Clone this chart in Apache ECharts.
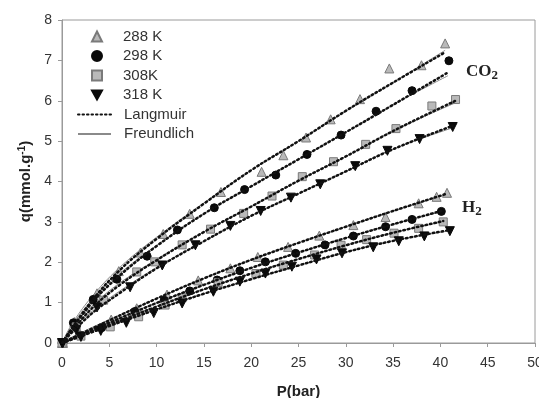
<!DOCTYPE html>
<html><head><meta charset="utf-8">
<script src="https://cdn.jsdelivr.net/npm/echarts@6/dist/echarts.min.js"></script>
<style>html,body{margin:0;padding:0;background:#fff}#c{width:539px;height:398px}</style>
</head><body><div id="c"></div>
<script>
// tick labels
const xTicks = [0,5,10,15,20,25,30,35,40,45,50];
const yTicks = [0,1,2,3,4,5,6,7,8];
const tempNames = ['288 K','298 K','308K','318 K'];
const fitNames = ['Langmuir','Freundlich'];

// measured points [P(bar), q(mmol/g)]
const co2_288 = [[0.1,0],[1.3,0.52],[3.7,1.23],[6.0,1.78],[8.3,2.24],[10.7,2.7],[13.5,3.2],[16.8,3.74],[21.1,4.24],[23.4,4.65],[25.8,5.09],[28.4,5.54],[31.5,6.04],[34.6,6.8],[38.0,6.88],[40.5,7.42]];
const co2_298 = [[0.1,0],[1.2,0.5],[3.3,1.08],[5.8,1.58],[9.0,2.15],[12.2,2.8],[16.1,3.35],[19.3,3.8],[22.6,4.16],[25.9,4.67],[29.5,5.15],[33.2,5.74],[37.0,6.25],[40.9,6.99]];
const co2_308 = [[0.1,0],[1.5,0.4],[4.4,1.06],[7.9,1.76],[9.8,2.01],[12.7,2.43],[15.7,2.82],[19.2,3.21],[22.2,3.64],[25.4,4.12],[28.7,4.49],[32.1,4.92],[35.3,5.31],[39.1,5.87],[41.6,6.03]];
const co2_318 = [[0.1,0],[1.5,0.32],[3.7,0.88],[7.2,1.38],[10.6,1.92],[14.1,2.42],[17.8,2.9],[21.0,3.27],[24.2,3.6],[27.3,3.93],[31.0,4.38],[34.4,4.76],[37.8,5.05],[41.3,5.35]];
const h2_288 = [[0,0],[1.8,0.22],[5.2,0.58],[7.9,0.86],[11.1,1.2],[14.4,1.55],[17.8,1.85],[20.7,2.13],[23.9,2.38],[27.2,2.66],[30.8,2.92],[34.2,3.12],[37.7,3.46],[39.6,3.62],[40.7,3.72]];
const h2_298 = [[0,0],[1.9,0.2],[4.2,0.38],[7.7,0.78],[10.8,1.06],[13.5,1.29],[16.4,1.56],[18.8,1.79],[21.5,2.01],[24.7,2.22],[27.8,2.43],[30.8,2.65],[34.2,2.88],[37.0,3.06],[40.1,3.26]];
const h2_308 = [[0,0],[2.0,0.17],[5.1,0.4],[8.1,0.65],[10.9,0.94],[12.7,1.12],[16.5,1.5],[20.5,1.72],[23.4,1.93],[26.7,2.18],[29.5,2.42],[32.2,2.56],[35.1,2.72],[37.7,2.84],[40.3,3.0]];
const h2_318 = [[0,0],[2.0,0.15],[4.1,0.3],[6.8,0.5],[9.7,0.74],[12.7,0.98],[16.0,1.27],[18.8,1.52],[21.5,1.72],[24.3,1.89],[26.9,2.07],[29.6,2.22],[32.9,2.37],[35.6,2.52],[38.3,2.64],[41.0,2.77]];

// fitted curves
const co2_288_lang = [[0,0],[3,1.0],[6,1.78],[10,2.58],[15,3.45],[20,4.28],[25,5.0],[30,5.75],[35,6.45],[40.5,7.2]];
const co2_288_freu = [[0,0],[1,0.45],[3,1.1],[6,1.85],[10,2.62],[15,3.47],[20,4.28],[25,5.0],[30,5.74],[35,6.45],[40.5,7.25]];
const co2_298_lang = [[0,0],[3,0.95],[6,1.65],[10,2.4],[15,3.2],[20,3.88],[25,4.55],[30,5.22],[35,5.9],[40.8,6.7]];
const co2_298_freu = [[0,0],[1,0.42],[3,1.02],[6,1.7],[10,2.42],[15,3.2],[20,3.88],[25,4.55],[30,5.22],[35,5.9],[40.8,6.62]];
const co2_308_lang = [[0,0],[3,0.82],[6,1.42],[10,2.05],[15,2.75],[20,3.38],[25,4.02],[30,4.62],[35,5.25],[41.6,6.0]];
const co2_308_freu = [[0,0],[1,0.36],[3,0.88],[6,1.47],[10,2.07],[15,2.75],[20,3.38],[25,4.02],[30,4.62],[35,5.25],[41.6,5.95]];
const co2_318_lang = [[0,0],[3,0.7],[6,1.22],[10,1.85],[15,2.52],[20,3.15],[25,3.7],[30,4.25],[35,4.8],[41.3,5.38]];
const co2_318_freu = [[0,0],[1,0.3],[3,0.75],[6,1.27],[10,1.87],[15,2.52],[20,3.15],[25,3.7],[30,4.25],[35,4.8],[41.3,5.33]];
const h2_288_lang = [[0,0],[5,0.56],[10,1.1],[15,1.6],[20,2.06],[25,2.48],[30,2.88],[35,3.27],[40.7,3.7]];
const h2_288_freu = [[0,0],[1,0.14],[5,0.58],[10,1.1],[15,1.6],[20,2.06],[25,2.48],[30,2.88],[35,3.27],[40.7,3.68]];
const h2_298_lang = [[0,0],[5,0.5],[10,0.99],[15,1.44],[20,1.86],[25,2.24],[30,2.6],[35,2.94],[40.1,3.27]];
const h2_298_freu = [[0,0],[1,0.12],[5,0.52],[10,1.0],[15,1.44],[20,1.86],[25,2.24],[30,2.6],[35,2.94],[40.1,3.25]];
const h2_308_lang = [[0,0],[5,0.45],[10,0.9],[15,1.33],[20,1.72],[25,2.08],[30,2.42],[35,2.73],[40.3,3.02]];
const h2_308_freu = [[0,0],[1,0.11],[5,0.47],[10,0.91],[15,1.33],[20,1.72],[25,2.08],[30,2.42],[35,2.73],[40.3,3.0]];
const h2_318_lang = [[0,0],[5,0.42],[10,0.83],[15,1.22],[20,1.58],[25,1.92],[30,2.25],[35,2.53],[41,2.8]];
const h2_318_freu = [[0,0],[1,0.1],[5,0.44],[10,0.84],[15,1.22],[20,1.58],[25,1.92],[30,2.25],[35,2.53],[41,2.78]];

const downTri = 'path://M0,0L10,0L5,9Z';
const markerStyles = [
  {symbol:'triangle', size:9, color:'#b9b9b9', border:'#7a7a7a'},
  {symbol:'circle', size:8, color:'#0a0a0a', border:'#0a0a0a'},
  {symbol:'rect', size:8, color:'#b9b9b9', border:'#7a7a7a'},
  {symbol:downTri, size:9, color:'#0a0a0a', border:'#0a0a0a'}
];
const pointSets = [[co2_288,h2_288],[co2_298,h2_298],[co2_308,h2_308],[co2_318,h2_318]];
const langSets = [co2_288_lang,co2_298_lang,co2_308_lang,co2_318_lang,h2_288_lang,h2_298_lang,h2_308_lang,h2_318_lang];
const freuSets = [co2_288_freu,co2_298_freu,co2_308_freu,co2_318_freu,h2_288_freu,h2_298_freu,h2_308_freu,h2_318_freu];

const series = [];
freuSets.forEach(d => series.push({
  name:'Freundlich', type:'line', data:d, smooth:0.4, symbol:'none', z:2,
  lineStyle:{color:'#8a8a8a', width:1, type:'solid'}, itemStyle:{color:'#8a8a8a'}
}));
langSets.forEach(d => series.push({
  name:'Langmuir', type:'line', data:d, smooth:0.4, symbol:'none', z:4,
  lineStyle:{color:'#111', width:2.5, type:[1.5,3], cap:'round'}, itemStyle:{color:'#111'}
}));
pointSets.forEach((pair,i) => {
  const m = markerStyles[i];
  pair.forEach(d => series.push({
    name:tempNames[i], type:'scatter', data:d, symbol:m.symbol, symbolSize:m.size, z:3,
    itemStyle:{color:m.color, borderColor:m.border, borderWidth:1, opacity:1}
  }));
});

const hiddenSym = {color:'rgba(0,0,0,0)', borderColor:'rgba(0,0,0,0)', borderWidth:0, opacity:0};
const legendText = {fontFamily:'Liberation Sans', fontSize:15, color:'#333', lineHeight:15};

const chart = echarts.init(document.getElementById('c'), null, {renderer:'canvas'});
chart.setOption({
  animation:false,
  backgroundColor:'#fff',
  grid:{left:62, top:20, right:4, bottom:55, show:true, borderColor:'#9a9a9a', borderWidth:1, outerBoundsMode:'none', containLabel:false},
  legend:[{
    orient:'vertical', left:91, top:29, padding:0, itemWidth:10, itemHeight:10, itemGap:4.5,
    data:tempNames.map((n,i) => ({name:n, icon:markerStyles[i].symbol})),
    textStyle:Object.assign({padding:[0,0,0,16]}, legendText),
    selectedMode:false
  },{
    orient:'vertical', left:77, top:107, padding:0, itemWidth:33, itemHeight:10, itemGap:4.5,
    data:fitNames.map(n => ({name:n, itemStyle:hiddenSym})),
    textStyle:Object.assign({padding:[0,0,0,8]}, legendText),
    selectedMode:false
  }],
  xAxis:{
    type:'value', min:0, max:50, interval:5,
    name:'P(bar)', nameLocation:'middle', nameGap:41,
    nameTextStyle:{fontFamily:'Liberation Sans', fontSize:15, fontWeight:'bold', color:'#222'},
    axisLine:{show:true, lineStyle:{color:'#9a9a9a', width:1}},
    axisTick:{show:true, inside:false, length:4, lineStyle:{color:'#9a9a9a'}},
    axisLabel:{fontFamily:'Liberation Sans', fontSize:14, color:'#333', margin:13,
      formatter:v => xTicks.includes(v) ? String(v) : ''},
    splitLine:{show:false}
  },
  yAxis:{
    type:'value', min:0, max:8, interval:1,
    name:'{b|q(mmol.g}{s|-1}{b|)}', nameLocation:'middle', nameGap:27, nameRotate:90,
    nameTextStyle:{rich:{
      b:{fontFamily:'Liberation Sans', fontSize:15, fontWeight:'bold', color:'#222'},
      s:{fontFamily:'Liberation Sans', fontSize:10, fontWeight:'bold', color:'#222', verticalAlign:'top', padding:[0,0,8,0]}
    }},
    axisLine:{show:true, lineStyle:{color:'#9a9a9a', width:1}},
    axisTick:{show:true, inside:false, length:4, lineStyle:{color:'#9a9a9a'}},
    axisLabel:{fontFamily:'Liberation Sans', fontSize:14, color:'#333', margin:10,
      formatter:v => yTicks.includes(v) ? String(v) : ''},
    splitLine:{show:false}
  },
  graphic:[
    {type:'text', left:466, top:63, style:{text:'{m|CO}{s|2}', rich:{
      m:{fontFamily:'Liberation Serif', fontSize:17, fontWeight:'bold', fill:'#222'},
      s:{fontFamily:'Liberation Serif', fontSize:13, fontWeight:'bold', fill:'#222', padding:[8,0,0,0]}}}},
    {type:'text', left:462, top:199, style:{text:'{m|H}{s|2}', rich:{
      m:{fontFamily:'Liberation Serif', fontSize:17, fontWeight:'bold', fill:'#222'},
      s:{fontFamily:'Liberation Serif', fontSize:13, fontWeight:'bold', fill:'#222', padding:[8,0,0,0]}}}}
  ],
  series:series
});
</script></body></html>
